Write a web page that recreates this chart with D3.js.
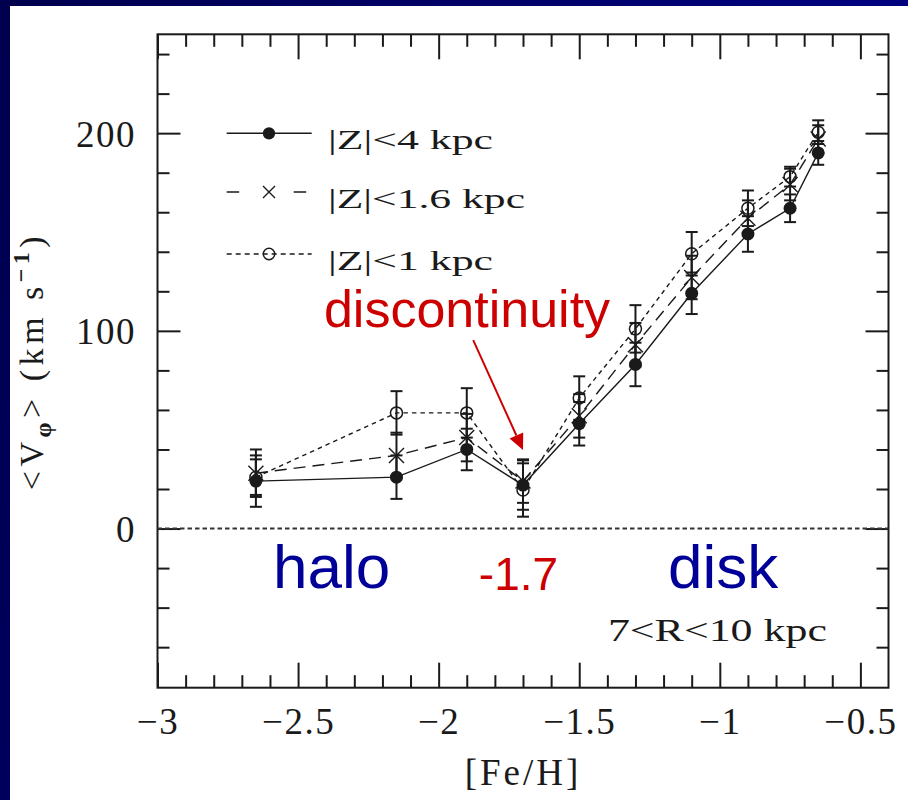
<!DOCTYPE html>
<html>
<head>
<meta charset="utf-8">
<script src="https://cdn.jsdelivr.net/npm/d3@7"></script>
<style>
  html, body { margin: 0; padding: 0; background: #fff; }
  svg { display: block; }
</style>
</head>
<body>
<svg id="chart" width="908" height="800"></svg>
<script>
// [Fe/H] bins
const feH = [-2.65, -2.15, -1.9, -1.7, -1.5, -1.3, -1.1, -0.9, -0.75, -0.65];

// Mean rotation velocity <V_phi> (km/s) and its error, for three |Z| cuts
const vZ4  = [24, 26, 40, 22, 53, 83, 119, 149, 162, 190];
const eZ4  = [13, 11, 10.5, 12.5, 11, 11, 10.5, 9, 7, 6];
const vZ16 = [28, 37, 46, 24, 57, 93, 127, 157, 174, 197];
const eZ16 = [12, 11.5, 12, 11, 11, 11, 11, 9, 8, 7];
const vZ1  = [26, 58.5, 58.5, 19.5, 66, 101, 139, 162, 178, 200.5];
const eZ1  = [9, 11, 12.5, 13.5, 11, 12, 11, 9, 5, 6];

const seriesNames = ["|Z|<4  kpc", "|Z|<1.6  kpc", "|Z|<1  kpc"];

const xMajorTicks = [-3, -2.5, -2, -1.5, -1, -0.5];
const xTickLabels = ["\u22123", "\u22122.5", "\u22122", "\u22121.5", "\u22121", "\u22120.5"];
const yMajorTicks = [0, 100, 200];
const yTickLabels = ["0", "100", "200"];

const svg = d3.select("#chart");
const W = 908, H = 800;

// slide background: navy border around a white panel
const defs = svg.append("defs");
const grad = defs.append("linearGradient").attr("id", "navy")
  .attr("x1", "0").attr("y1", "0").attr("x2", "1").attr("y2", "0.3");
grad.append("stop").attr("offset", "0").attr("stop-color", "#00004e");
grad.append("stop").attr("offset", "0.5").attr("stop-color", "#000068");
grad.append("stop").attr("offset", "1").attr("stop-color", "#000084");
svg.append("rect").attr("width", W).attr("height", H).attr("fill", "url(#navy)");
svg.append("rect").attr("x", 10).attr("y", 6).attr("width", W - 10).attr("height", H - 6).attr("fill", "#fff");

// plot box
const X0 = 157.5, X1 = 888.5, Y0 = 34.3, Y1 = 687.7;
const x = d3.scaleLinear().domain([-3, -0.4]).range([X0, X1]);
const y = d3.scaleLinear().domain([-80.5, 250]).range([Y1, Y0]);

const ink = "#1a1a1a";
const serif = "'Liberation Serif', 'Times New Roman', serif";
const sans = "'Liberation Sans', Arial, sans-serif";

const xMinor = d3.range(-29, -4).map(i => i / 10).filter(v => !xMajorTicks.some(m => Math.abs(m - v) < 1e-9));
const yMinor = d3.range(-60, 250, 20).filter(v => !yMajorTicks.includes(v));

function styleAxis(g) {
  g.select(".domain").remove();
  g.selectAll("line").attr("stroke", ink).attr("stroke-width", 2);
  g.attr("font-family", serif).attr("font-size", 37);
  g.selectAll("text").attr("fill", ink).attr("letter-spacing", 1.5);
}

// bottom
svg.append("g").attr("transform", `translate(0,${Y1})`)
  .call(d3.axisBottom(x).tickValues(xMinor).tickSize(-12.5).tickSizeOuter(0).tickFormat(""))
  .call(styleAxis);
svg.append("g").attr("transform", `translate(0,${Y1})`)
  .call(d3.axisBottom(x).tickValues(xMajorTicks).tickSize(-25).tickSizeOuter(0).tickPadding(20)
        .tickFormat((d, i) => xTickLabels[i]))
  .call(styleAxis);
// top
svg.append("g").attr("transform", `translate(0,${Y0})`)
  .call(d3.axisTop(x).tickValues(xMinor).tickSize(-12.5).tickSizeOuter(0).tickFormat(""))
  .call(styleAxis);
svg.append("g").attr("transform", `translate(0,${Y0})`)
  .call(d3.axisTop(x).tickValues(xMajorTicks).tickSize(-25).tickSizeOuter(0).tickFormat(""))
  .call(styleAxis);
// left
svg.append("g").attr("transform", `translate(${X0},0)`)
  .call(d3.axisLeft(y).tickValues(yMinor).tickSize(-12).tickSizeOuter(0).tickFormat(""))
  .call(styleAxis);
svg.append("g").attr("transform", `translate(${X0},0)`)
  .call(d3.axisLeft(y).tickValues(yMajorTicks).tickSize(-23).tickSizeOuter(0).tickPadding(21.5)
        .tickFormat((d, i) => yTickLabels[i]))
  .call(styleAxis)
  .call(g => g.selectAll("text").attr("dy", null).attr("y", 13));
// right
svg.append("g").attr("transform", `translate(${X1},0)`)
  .call(d3.axisRight(y).tickValues(yMinor).tickSize(-12).tickSizeOuter(0).tickFormat(""))
  .call(styleAxis);
svg.append("g").attr("transform", `translate(${X1},0)`)
  .call(d3.axisRight(y).tickValues(yMajorTicks).tickSize(-23).tickSizeOuter(0).tickFormat(""))
  .call(styleAxis);

// frame
svg.append("rect").attr("x", X0).attr("y", Y0).attr("width", X1 - X0).attr("height", Y1 - Y0)
  .attr("fill", "none").attr("stroke", ink).attr("stroke-width", 2);

// zero reference line
svg.append("line").attr("x1", x(-3)).attr("x2", x(-0.4)).attr("y1", y(0)).attr("y2", y(0))
  .attr("stroke", "#333").attr("stroke-width", 2).attr("stroke-dasharray", "4.5,3");

// series
const series = [
  { v: vZ4,  e: eZ4,  dash: null,   marker: "dot" },
  { v: vZ16, e: eZ16, dash: "12,7", marker: "cross" },
  { v: vZ1,  e: eZ1,  dash: "4.5,4", marker: "ring" }
];

const line = d3.line().x(d => x(d[0])).y(d => y(d[1]));
const plot = svg.append("g");

series.forEach(s => {
  const pts = d3.zip(feH, s.v);
  plot.append("path").datum(pts).attr("d", line)
    .attr("fill", "none").attr("stroke", ink).attr("stroke-width", 1.4)
    .attr("stroke-dasharray", s.dash);
});

series.forEach(s => {
  const g = plot.append("g").attr("stroke", ink).attr("stroke-width", 2);
  feH.forEach((fx, i) => {
    const cx = x(fx), lo = y(s.v[i] - s.e[i]), hi = y(s.v[i] + s.e[i]);
    g.append("line").attr("x1", cx).attr("x2", cx).attr("y1", lo).attr("y2", hi);
    g.append("line").attr("x1", cx - 6).attr("x2", cx + 6).attr("y1", lo).attr("y2", lo);
    g.append("line").attr("x1", cx - 6).attr("x2", cx + 6).attr("y1", hi).attr("y2", hi);
  });
});

function drawMarker(g, type, cx, cy, scale) {
  if (type === "dot") {
    g.append("circle").attr("cx", cx).attr("cy", cy).attr("r", 6.5 * scale).attr("fill", ink);
  } else if (type === "cross") {
    const h = 7.5 * scale;
    g.append("path").attr("d", `M${cx - h},${cy - h}L${cx + h},${cy + h}M${cx - h},${cy + h}L${cx + h},${cy - h}`)
      .attr("stroke", ink).attr("stroke-width", 1.4).attr("fill", "none");
  } else {
    g.append("circle").attr("cx", cx).attr("cy", cy).attr("r", 6 * scale)
      .attr("fill", "none").attr("stroke", ink).attr("stroke-width", 1.5);
  }
}

series.forEach(s => {
  const g = plot.append("g");
  feH.forEach((fx, i) => drawMarker(g, s.marker, x(fx), y(s.v[i]), 1));
});

// legend
const legRows = [133.3, 192, 254];
const legX0 = 226.7, legX1 = 311.7, legMid = 269;
const legDash = [null, "12.5,54.5", "5,4"];
const legText = [165, 197, 165];
series.forEach((s, i) => {
  const g = svg.append("g");
  g.append("line").attr("x1", legX0).attr("x2", legX1).attr("y1", legRows[i]).attr("y2", legRows[i])
    .attr("stroke", ink).attr("stroke-width", 1.6).attr("stroke-dasharray", legDash[i]);
  drawMarker(g, s.marker, legMid, legRows[i], i === 1 ? 0.8 : 0.95);
  g.append("text").attr("x", 328).attr("y", legRows[i] + 15.5)
    .attr("font-family", serif).attr("font-size", 27).attr("fill", ink)
    .attr("textLength", legText[i]).attr("lengthAdjust", "spacingAndGlyphs")
    .text(seriesNames[i]);
});

// radius range note
svg.append("text").attr("x", x(-1.398)).attr("y", y(-56.8))
  .attr("font-family", serif).attr("font-size", 32).attr("fill", ink)
  .attr("textLength", 219).attr("lengthAdjust", "spacingAndGlyphs")
  .text("7<R<10  kpc");

// axis titles
svg.append("text").attr("x", (X0 + X1) / 2).attr("y", 785)
  .attr("text-anchor", "middle").attr("font-family", serif).attr("font-size", 37).attr("fill", ink)
  .attr("letter-spacing", 3)
  .text("[Fe/H]");

const yl = svg.append("text").attr("transform", `translate(43,${(Y0 + Y1) / 2}) rotate(-90)`)
  .attr("text-anchor", "middle").attr("font-family", serif).attr("font-size", 34).attr("fill", ink)
  .attr("letter-spacing", 4.5);
yl.append("tspan").text("<V");
yl.append("tspan").attr("font-size", 24).attr("dy", 8).attr("font-weight", "bold").text("\u03c6");
yl.append("tspan").attr("dy", -8).text(">  (km  s");
yl.append("tspan").attr("font-size", 24).attr("dy", -14).attr("font-weight", "bold").text("\u22121");
yl.append("tspan").attr("dy", 14).text(")");

// annotations
const red = "#cc0000", navy = "#000099";
svg.append("text").attr("x", x(-2.408)).attr("y", y(101.9))
  .attr("font-family", sans).attr("font-size", 52).attr("fill", red).text("discontinuity");

const ax0 = x(-1.877), ay0 = y(95.3), ax1 = x(-1.7), ay1 = y(39.7);
const len = Math.hypot(ax1 - ax0, ay1 - ay0), ux = (ax1 - ax0) / len, uy = (ay1 - ay0) / len;
const headL = 16, headW = 7.5;
const bx = ax1 - ux * headL, by = ay1 - uy * headL;
svg.append("line").attr("x1", ax0).attr("y1", ay0).attr("x2", bx).attr("y2", by)
  .attr("stroke", red).attr("stroke-width", 2);
svg.append("path")
  .attr("d", `M${ax1},${ay1}L${bx - uy * headW},${by + ux * headW}L${bx + uy * headW},${by - ux * headW}Z`)
  .attr("fill", red);

svg.append("text").attr("x", x(-2.589)).attr("y", y(-30))
  .attr("font-family", sans).attr("font-size", 62).attr("fill", navy).text("halo");
svg.append("text").attr("x", x(-1.857)).attr("y", y(-31))
  .attr("font-family", sans).attr("font-size", 46).attr("fill", red).text("-1.7");
svg.append("text").attr("x", x(-1.184)).attr("y", y(-30))
  .attr("font-family", sans).attr("font-size", 62).attr("fill", navy).text("disk");
</script>
</body>
</html>
